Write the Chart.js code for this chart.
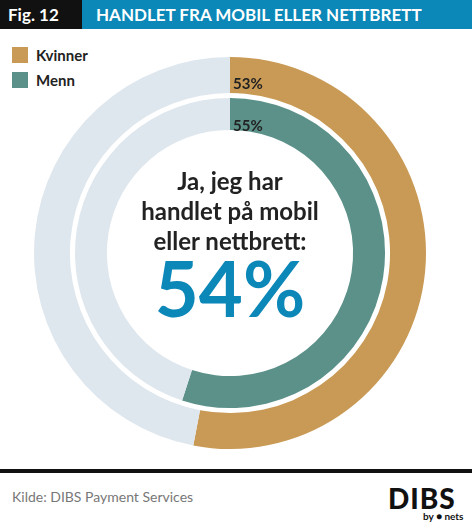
<!DOCTYPE html>
<html><head><meta charset="utf-8">
<script src="https://cdn.jsdelivr.net/npm/chart.js@4"></script>
<style>
body{margin:0;width:472px;height:526px;background:#fff;font-family:Lato,"Open Sans",sans-serif;position:relative;overflow:hidden}
.hdr{position:absolute;left:0;top:0;width:472px;height:29px;background:#0b87b8}
.fig{position:absolute;left:0;top:0;width:82px;height:29px;background:#111;color:#fff;font-weight:bold;font-size:17px;line-height:29px;padding-left:8px;box-sizing:border-box}
.ttl{position:absolute;left:96px;top:0;color:#fff;font-weight:bold;font-size:17px;line-height:29px}
.leg{position:absolute;left:12px;font-weight:bold;font-size:15px;color:#222;line-height:16px}
.leg span{display:inline-block;width:16px;height:16px;vertical-align:top;margin-right:8px}
#wrap{position:absolute;left:34px;top:57px;width:392px;height:392px}
.ctr{position:absolute;left:130px;width:200px;text-align:center;font-weight:bold;color:#222}
.lbl{position:absolute;font-weight:bold;font-size:15px;color:#222}
.line{position:absolute;left:0;top:469px;width:472px;height:4px;background:#111}
.src{position:absolute;left:12px;top:488px;font-size:14px;color:#777}
.logo{position:absolute;left:388px;top:484px;font-weight:900;font-size:28px;color:#111;letter-spacing:1px;line-height:28px}
.by{position:absolute;left:423px;top:510px;font-size:10px;color:#111;font-weight:bold}
</style></head><body>
<div class="hdr"></div><div class="fig">Fig. 12</div>
<div class="ttl">HANDLET FRA MOBIL ELLER NETTBRETT</div>
<div class="leg" style="top:47px"><span style="background:#c99a55"></span>Kvinner</div>
<div class="leg" style="top:72px"><span style="background:#5b9189"></span>Menn</div>
<div id="wrap"><canvas id="c"></canvas></div>
<div class="lbl" style="left:233px;top:74px" id="l1"></div>
<div class="lbl" style="left:233px;top:116px" id="l2"></div>
<div class="ctr" style="top:166px;font-size:24px;line-height:30px">Ja, jeg har<br>handlet på mobil<br>eller nettbrett:</div>
<div class="ctr" style="top:250px;font-size:76px;line-height:76px;color:#0b87b8" id="tot"></div>
<div class="line"></div>
<div class="src">Kilde: DIBS Payment Services</div>
<div class="logo">DIBS</div><div class="by">by ● nets</div>
<script>
const categories=["Ja","Nei"];
const kvinner=[53,47];
const menn=[55,45];
const total=54;
document.getElementById('l1').textContent=kvinner[0]+'%';
document.getElementById('l2').textContent=menn[0]+'%';
document.getElementById('tot').textContent=total+'%';
new Chart(document.getElementById('c'),{type:'doughnut',
data:{labels:categories,datasets:[
{data:kvinner,backgroundColor:['#c99a55','#dfe7ee'],borderWidth:0,weight:36},
{data:[1],backgroundColor:['rgba(0,0,0,0)'],borderWidth:0,weight:5},
{data:menn,backgroundColor:['#5b9189','#dfe7ee'],borderWidth:0,weight:32}]},
options:{responsive:true,maintainAspectRatio:false,animation:false,cutout:'62.8%',
plugins:{legend:{display:false},tooltip:{enabled:false}},layout:{padding:0}}});
</script></body></html>
